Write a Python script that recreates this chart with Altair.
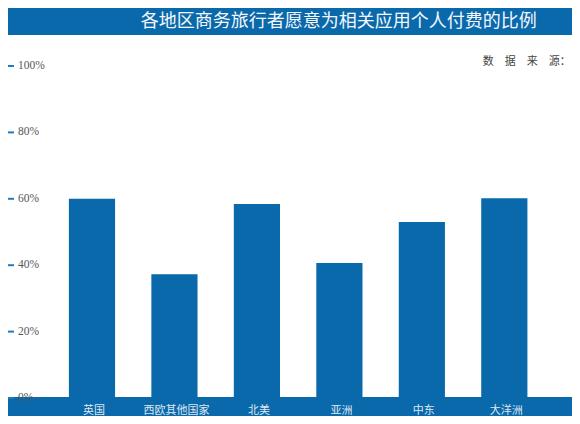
import altair as alt
import pandas as pd

regions = ["英国", "西欧其他国家", "北美", "亚洲", "中东", "大洋洲"]
shares = [60.0, 37.3, 58.4, 40.7, 53.0, 60.2]
tick_values = [0, 20, 40, 60, 80, 100]
tick_labels = ["0%", "20%", "40%", "60%", "80%", "100%"]
title_text = "各地区商务旅行者愿意为相关应用个人付费的比例"
source_text = "数　据　来　源："

BLUE = "#0A69AB"

bars_df = pd.DataFrame({"region": regions, "share": shares})
ticks_df = pd.DataFrame({"v": tick_values, "label": tick_labels})
one = pd.DataFrame({"k": [0]})

yscale = alt.Scale(domain=[0, 117.47], nice=False, zero=True)

bars = alt.Chart(bars_df).mark_bar(color=BLUE).encode(
    x=alt.X("region:N", sort=regions, title=None,
            scale=alt.Scale(paddingInner=0.44, paddingOuter=0.5),
            axis=alt.Axis(domain=False, ticks=False, grid=False, labelAngle=0,
                          labelColor="#dfe7f0", labelFont="Noto Sans CJK SC",
                          labelFontSize=11, labelPadding=6, labelOffset=2,
                          zindex=2)),
    y=alt.Y("share:Q", scale=yscale, axis=None),
)

band = alt.Chart(one).mark_rect(color=BLUE).encode(
    x=alt.value(-19.65), x2=alt.value(544.35), y=alt.value(389), y2=alt.value(413)
)

banner = alt.Chart(one).mark_rect(color=BLUE).encode(
    x=alt.value(-19.65), x2=alt.value(544.35), y=alt.value(0), y2=alt.value(27)
)

title = alt.Chart(one).mark_text(
    color="#f4f7fb", font="Noto Sans CJK SC", fontSize=18, align="center", baseline="middle"
).encode(x=alt.value(311), y=alt.value(14), text=alt.value(title_text))

source = alt.Chart(one).mark_text(
    color="#444444", font="Noto Sans CJK SC", fontSize=11, align="right", baseline="middle"
).encode(x=alt.value(543), y=alt.value(54), text=alt.value(source_text))

tick_marks = alt.Chart(ticks_df).mark_rule(color="#1f7bbd", strokeWidth=2).encode(
    x=alt.value(-20.65), x2=alt.value(-13.65), y=alt.Y("v:Q", scale=yscale, axis=None)
)

tick_text = alt.Chart(ticks_df).mark_text(
    color="#555555", font="Liberation Serif", fontSize=11.5, align="left", baseline="middle"
).encode(x=alt.value(-9.65), y=alt.Y("v:Q", scale=yscale, axis=None), text="label:N")

chart = alt.layer(bars, band, banner, title, source, tick_marks, tick_text).properties(
    width=541, height=390,
    padding={"left": 19.65, "top": 0, "right": 3.35, "bottom": 18},
    autosize=alt.AutoSizeParams(type="none"),
    background="white",
).configure_view(stroke=None)

chart.save("out.html", embed_options={"renderer": "svg", "actions": False})
